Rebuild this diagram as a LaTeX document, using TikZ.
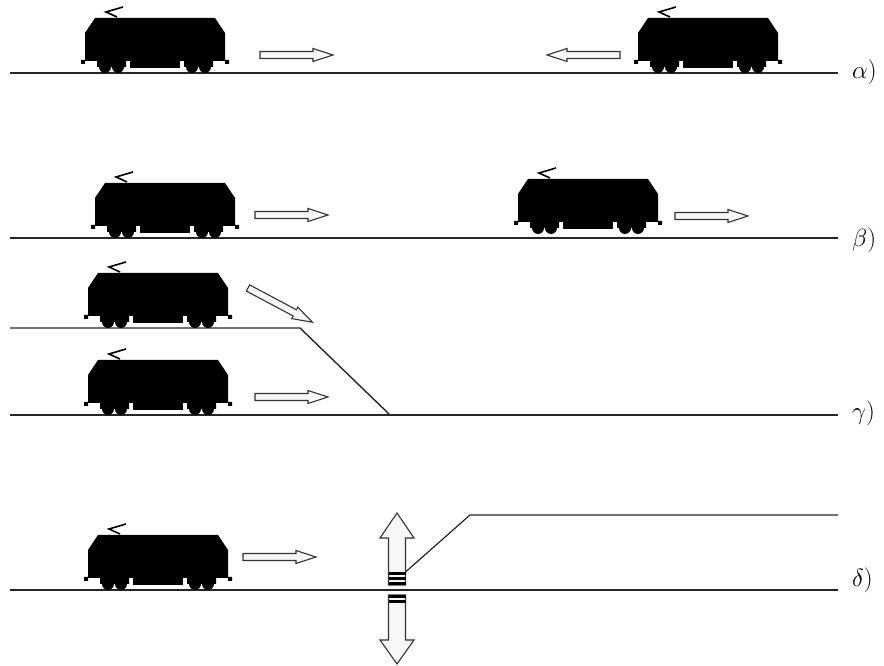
\documentclass[tikz,border=0pt]{standalone}
\usepackage{amsmath,amssymb}
\usepackage{tikz}

\begin{document}
\begin{tikzpicture}[x=1pt, y=1pt,
	track/.style={gray!30!black, line width=1.4pt},
	arrowline/.style={draw=gray!40!black, fill=gray!6, line width=1.1pt, line join=miter},
	lbl/.style={anchor=west, inner sep=0pt, font=\fontsize{25}{30}\selectfont},
	loco/.pic={
		\fill (0,12) -- (0,40) -- (10,55) -- (130,55) -- (140,40) -- (140,12) -- cycle;
		\fill (45,5) rectangle (95,12);
		\fill (12,6) rectangle (41,14) (99,6) rectangle (128,14);
		\foreach \w in {20,33,107,120} {\fill (\w,6) circle (6);}
		\fill (-4,9) rectangle (0,13) (140,9) rectangle (144,13);
		\draw[line width=1.6pt] (32,56) -- (21,61) -- (38,66);
	},
	movearrow/.pic={
		\path[arrowline] (0,-3.5) -- (53,-3.5) -- (53,-6.5) -- (73,0) -- (53,6.5) -- (53,3.5) -- (0,3.5) -- cycle;
	}]
	\useasboundingbox (0,0) rectangle (884,666);
	% alpha: two locos running towards each other
	\draw[track] (10,593) -- (838,593);
	\pic at (85,593) {loco}; \pic at (638,593) {loco};
	\pic at (260,611) {movearrow}; \pic[rotate=180] at (620,611) {movearrow};
	\node[lbl] (la) at (852,594) {$\alpha)$};
	% beta: same direction
	\draw[track] (10,428) -- (838,428);
	\pic at (95,428) {loco}; \pic at (518,432) {loco};
	\pic at (255,451) {movearrow}; \pic at (675,450) {movearrow};
	\node[lbl] (lb) at (852,426) {$\beta)$};
	% gamma: merging tracks
	\draw[track] (10,338) -- (300,338) -- (390,251);
	\draw[track] (10,251) -- (838,251);
	\pic at (88,338) {loco}; \pic at (88,251) {loco};
	\pic[rotate=-28] at (248,378) {movearrow}; \pic at (255,269) {movearrow};
	\node[lbl] (lg) at (852,253) {$\gamma)$};
	% delta: level crossing
	\draw[track] (10,76) -- (838,76);
	\draw[track, line width=1.2pt] (405.5,94) -- (470,151) -- (838,151);
	\pic at (88,76) {loco};
	\pic at (243,109) {movearrow};
	\path[arrowline] (388.5,81) -- (388.5,128) -- (380,128) -- (397,153) -- (414,128) -- (405.5,128) -- (405.5,81) -- cycle;
	\path[arrowline] (388.5,71) -- (388.5,26) -- (380,26) -- (397,2) -- (414,26) -- (405.5,26) -- (405.5,71) -- cycle;
	\foreach \s in {81,86,91} {\fill (388.5,\s) rectangle (405.5,\s+2.5);}
	\foreach \s in {63,68} {\fill (388.5,\s) rectangle (405.5,\s+3);}
	\node[lbl] (ld) at (852,86) {$\delta)$};
\end{tikzpicture}
\end{document}
